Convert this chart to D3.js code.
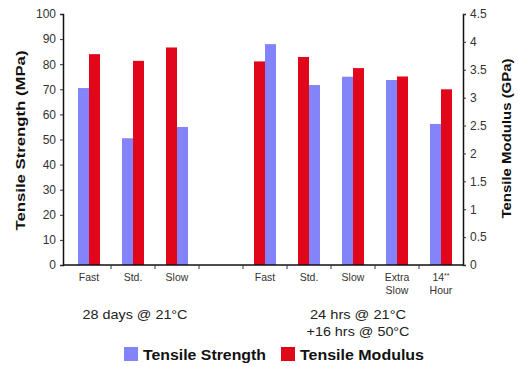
<!DOCTYPE html>
<html lang="en">
<head>
<meta charset="utf-8" />
<title>Tensile strength and modulus</title>
<style>
  body { margin: 0; background: #fff; }
  svg { font-family: Arial, "Liberation Sans", sans-serif; }
</style>
</head>
<body>
<div id="chart"></div>
<script src="https://cdnjs.cloudflare.com/ajax/libs/d3/7.4.4/d3.min.js"></script>
<script>
// categories (one empty slot separates the two cure schedules)
var categories = ["Fast", "Std.", "Slow", "", "Fast", "Std.", "Slow", "Extra Slow", "14** Hour"];
var strength = [70.5, 50.5, 55, null, 88, 71.7, 75, 73.7, 56.2];   // MPa
var modulus  = [3.78, 3.66, 3.9, null, 3.65, 3.73, 3.53, 3.38, 3.15]; // GPa
var redFirst = [false, false, true, null, true, true, false, false, false];
var groupLabels = [["28 days @ 21°C"], ["24 hrs @ 21°C", "+16 hrs @ 50°C"]];
var leftTicks = [0, 10, 20, 30, 40, 50, 60, 70, 80, 90, 100];
var rightTicks = [0, 0.5, 1, 1.5, 2, 2.5, 3, 3.5, 4, 4.5];

var W = 519, H = 366;
var margin = { top: 14, right: 56, bottom: 101, left: 63 };
var width = W - margin.left - margin.right,
    height = H - margin.top - margin.bottom;

var blue = "#8484fa", red = "#e2061a";

var svg = d3.select("#chart").append("svg")
    .attr("width", W).attr("height", H);
var g = svg.append("g")
    .attr("transform", "translate(" + margin.left + "," + margin.top + ")");

var x = d3.scaleBand()
    .domain(categories.map(function (d, i) { return i; }))
    .range([4, width]);

var yL = d3.scaleLinear().domain([0, 100]).range([height, 0]);
var yR = d3.scaleLinear().domain([0, 4.5]).range([height, 0]);

var barW = 11;

// bars
categories.forEach(function (c, i) {
    if (strength[i] == null) return;
    var cx = x(i) + x.bandwidth() / 2;
    var bx = redFirst[i] ? cx : cx - barW;
    var rx = redFirst[i] ? cx - barW : cx;
    g.append("rect")
        .attr("x", bx).attr("width", barW)
        .attr("y", yL(strength[i]))
        .attr("height", height - yL(strength[i]))
        .attr("fill", blue);
    g.append("rect")
        .attr("x", rx).attr("width", barW)
        .attr("y", yR(modulus[i]))
        .attr("height", height - yR(modulus[i]))
        .attr("fill", red);
});

// axes
var axL = g.append("g")
    .call(d3.axisLeft(yL).tickValues(leftTicks).tickSize(3).tickPadding(4));
var axR = g.append("g")
    .attr("transform", "translate(" + width + ",0)")
    .call(d3.axisRight(yR).tickValues(rightTicks).tickFormat(d3.format("")).tickSize(3).tickPadding(4));
[axL, axR].forEach(function (a) {
    a.select(".domain").attr("stroke", "#111").attr("stroke-width", 1.5);
    a.selectAll(".tick line").attr("stroke", "#333");
    a.selectAll(".tick text").attr("font-size", 12).attr("fill", "#333")
        .attr("font-family", "Arial, 'Liberation Sans', sans-serif");
});

// x axis line with ticks at band edges
g.append("line")
    .attr("x1", 0).attr("x2", width)
    .attr("y1", height).attr("y2", height)
    .attr("stroke", "#111").attr("stroke-width", 1.5);
categories.forEach(function (c, i) {
    if (i === 0) return;
    g.append("line")
        .attr("x1", x(i)).attr("x2", x(i))
        .attr("y1", height).attr("y2", height + 4)
        .attr("stroke", "#333");
});

// category labels
categories.forEach(function (c, i) {
    if (!c) return;
    var cx = x(i) + x.bandwidth() / 2;
    var t = g.append("text")
        .attr("x", cx).attr("y", height + 16)
        .attr("text-anchor", "middle")
        .attr("font-size", 10.5).attr("fill", "#333");
    if (c === "Extra Slow") {
        t.append("tspan").attr("x", cx).text("Extra");
        t.append("tspan").attr("x", cx).attr("dy", 13).text("Slow");
    } else if (c === "14** Hour") {
        t.append("tspan").attr("x", cx).text("14");
        t.append("tspan").attr("font-size", 7).attr("dy", -3).text("**");
        t.append("tspan").attr("x", cx).attr("dy", 16).text("Hour");
    } else {
        t.text(c);
    }
});

// group labels
var gx = [(x(0) + x(2) + x.bandwidth()) / 2 + 2, (x(4) + x(8) + x.bandwidth()) / 2 + 5];
var groupWidths = [[105], [96, 103]];
groupLabels.forEach(function (lines, k) {
    lines.forEach(function (s, j) {
        g.append("text")
            .attr("x", gx[k]).attr("y", height + 54 + j * 17)
            .attr("text-anchor", "middle")
            .attr("font-size", 13.5).attr("fill", "#222")
            .attr("textLength", groupWidths[k][j])
            .attr("lengthAdjust", "spacingAndGlyphs")
            .text(s);
    });
});

// axis titles
svg.append("text")
    .attr("transform", "translate(25," + (margin.top + height / 2 + 1) + ") rotate(-90)")
    .attr("text-anchor", "middle")
    .attr("font-size", 13).attr("font-weight", "bold").attr("fill", "#111")
    .attr("textLength", 180).attr("lengthAdjust", "spacingAndGlyphs")
    .text("Tensile Strength (MPa)");
svg.append("text")
    .attr("transform", "translate(511," + (margin.top + height / 2 - 1) + ") rotate(-90)")
    .attr("text-anchor", "middle")
    .attr("font-size", 12.5).attr("font-weight", "bold").attr("fill", "#111")
    .attr("textLength", 160).attr("lengthAdjust", "spacingAndGlyphs")
    .text("Tensile Modulus (GPa)");

// legend
var legend = [{ name: "Tensile Strength", color: blue, x: 124, w: 123 },
              { name: "Tensile Modulus", color: red, x: 281, w: 124 }];
legend.forEach(function (d) {
    svg.append("rect")
        .attr("x", d.x).attr("y", 347)
        .attr("width", 14).attr("height", 14)
        .attr("fill", d.color);
    svg.append("text")
        .attr("x", d.x + 19).attr("y", 360)
        .attr("font-size", 14.5).attr("font-weight", "bold").attr("fill", "#111")
        .attr("textLength", d.w).attr("lengthAdjust", "spacingAndGlyphs")
        .text(d.name);
});
</script>
</body>
</html>
